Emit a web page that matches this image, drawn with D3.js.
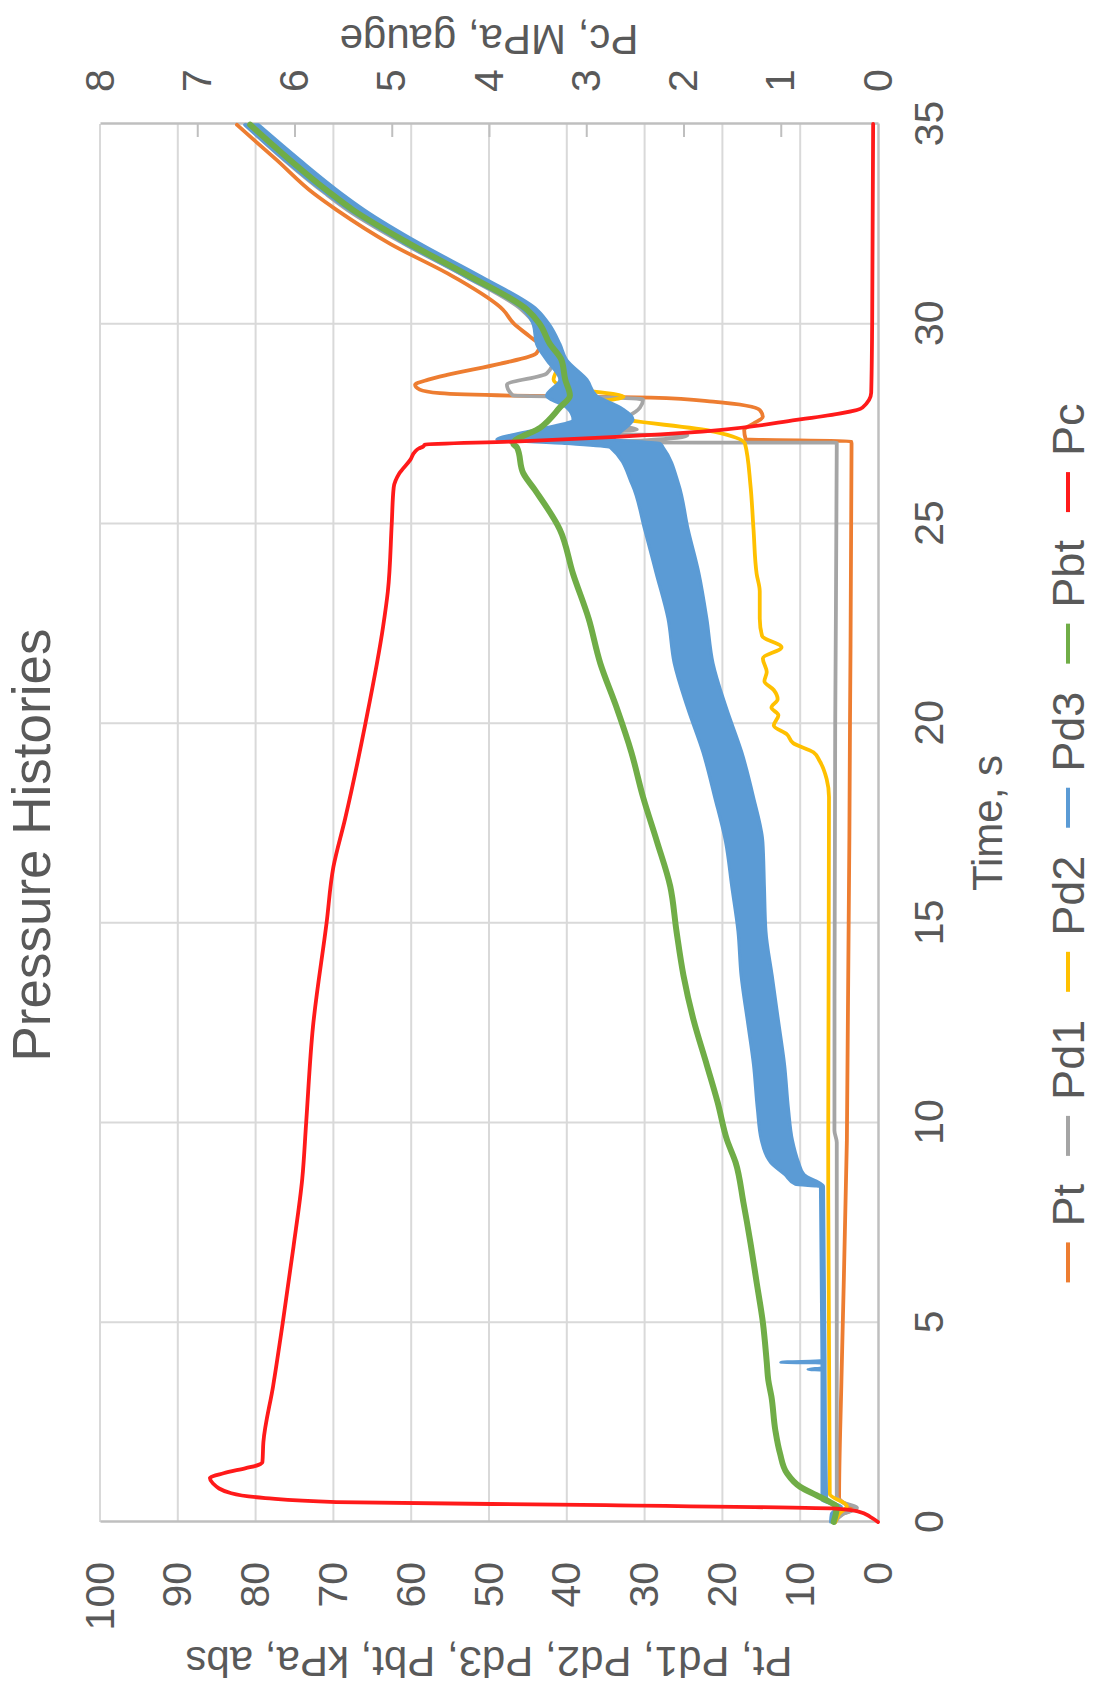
<!DOCTYPE html>
<html><head><meta charset="utf-8">
<script src="https://cdn.jsdelivr.net/npm/d3@7"></script>
<style>
body{margin:0;background:#fff}
svg{display:block}
text{font-family:"Liberation Sans",Arial,Helvetica,sans-serif;fill:#595959}
</style>
</head><body>
<svg id="c" width="1096" height="1690"></svg>
<script>
// ---------- data ----------
const timeTicks = [0,5,10,15,20,25,30,35];
const kpaTicks  = [0,10,20,30,40,50,60,70,80,90,100];
const mpaTicks  = [0,1,2,3,4,5,6,7,8];
const seriesNames  = ["Pt","Pd1","Pd2","Pd3","Pbt","Pc"];
const seriesColors = ["#ED7D31","#A5A5A5","#FFC000","#5B9BD5","#70AD47","#FF1A1A"];

// [time s, kPa]
const Pt = [[0,5.5],[0.2,4.6],[0.32,3.2],[0.45,4.2],[0.6,5.0],[3.55,4.7],[9.56,4.0],[20,3.6],[27.0,3.4],[27.06,3.5],[27.1,17.0],[27.34,17.2],[27.5,16.0],[27.67,14.8],[27.84,15.2],[28.05,21.2],[28.15,29.2],[28.2,47.3],[28.26,56.3],[28.35,58.9],[28.47,59.5],[28.6,57.8],[28.72,55.4],[29.0,48.5],[29.26,43.9],[29.46,43.5],[29.67,44.7],[30.0,46.8],[30.35,48.2],[31.18,54.6],[32.0,62.7],[32.85,69.6],[33.27,72.6],[34.1,77.3],[34.98,82.4]];
const Pd1 = [[0,5.5],[0.2,4.5],[0.35,2.7],[0.5,4.6],[0.65,5.3],[9.5,5.3],[9.8,5.6],[20,5.5],[27.0,5.3],[27.02,5.3],[27.03,40.0],[27.08,30.0],[27.2,24.5],[27.26,41.0],[27.35,31.0],[27.5,34.7],[27.7,32.0],[27.9,30.6],[28.1,30.2],[28.16,36.0],[28.2,46.9],[28.47,47.7],[28.75,42.6],[29.1,41.7],[29.6,43.7],[30.0,44.2],[30.35,45.8],[31.18,53.0],[32.0,60.9],[32.85,68.2],[33.27,71.1],[34.1,76.3],[34.98,81.3]];
const Pd2 = [[0,5.5],[0.2,5.0],[0.4,4.0],[0.7,6.2],[9.56,6.4],[18.15,6.3],[18.6,6.6],[19.05,7.5],[19.27,8.3],[19.5,10.9],[19.72,11.7],[19.94,13.4],[20.2,12.8],[20.39,13.7],[20.6,12.9],[20.83,13.4],[21.05,14.6],[21.28,14.3],[21.62,14.8],[21.9,12.4],[22.18,14.9],[22.62,15.2],[23.3,15.2],[23.74,15.6],[24.85,16.0],[25.97,16.4],[27.0,17.1],[27.3,21.1],[27.67,34.4],[28.0,37.0],[28.17,32.7],[28.4,40.0],[28.6,41.7],[29.0,41.0],[29.5,42.6],[30.0,43.6],[30.35,45.0],[31.18,52.2],[32.0,60.0],[32.85,67.2],[33.27,70.2],[34.1,75.5],[34.98,80.6]];
// [time s, low kPa, high kPa] – noisy band
const Pd3 = [[0,5.7,6.1],[0.2,5.6,6.0],[0.38,4.7,5.1],[0.55,6.6,7.2],[3.8,6.8,7.2],[3.82,6.8,9.0],[3.86,6.8,7.2],[3.98,6.8,7.2],[4.0,6.8,12.5],[4.04,6.8,7.2],[8.4,7.0,7.4],[8.45,7.2,10.6],[8.7,9.5,12.0],[9.0,10.2,13.8],[9.56,11.0,15.0],[10.33,11.5,15.5],[11.44,12.0,16.0],[12.56,12.8,16.8],[13.68,13.6,17.6],[14.79,14.4,18.0],[15.91,14.6,18.8],[17.03,14.8,19.6],[18.15,16.0,21.0],[19.27,17.5,22.5],[20.39,19.5,24.5],[21.5,21.2,26.2],[22.62,22.0,27.0],[23.74,23.0,28.5],[24.85,24.4,30.0],[25.97,25.6,31.6],[26.9,27.6,34.4],[27.0,28.0,40.0],[27.1,34.0,49.0],[27.3,33.0,45.0],[27.6,31.5,39.2],[27.9,33.1,40.0],[28.2,36.2,42.6],[28.6,37.4,40.9],[29.09,40.0,42.6],[29.5,40.9,43.9],[29.97,42.2,44.3],[30.35,43.8,45.6],[31.18,51.0,53.0],[32.0,58.8,60.8],[32.85,66.0,68.0],[33.27,69.0,71.0],[34.1,74.3,76.3],[34.98,79.6,81.4]];
const Pbt = [[0,5.7],[0.38,5.3],[0.5,6.2],[0.67,7.9],[0.88,10.0],[1.22,11.7],[1.72,12.6],[2.3,13.2],[3.14,13.7],[3.55,14.1],[4.0,14.3],[5,14.8],[6,15.6],[7,16.4],[8,17.3],[9,18.3],[9.56,19.4],[10.5,20.6],[11.44,22.0],[12.56,23.7],[13.68,25.0],[14.79,25.9],[15.91,26.7],[17.03,28.4],[18.15,30.2],[19.27,31.7],[20.39,33.6],[21.5,35.7],[22.62,37.2],[23.74,39.2],[24.85,40.9],[25.84,44.1],[26.26,45.6],[26.9,46.4],[27.0,46.9],[27.4,43.4],[27.9,40.9],[28.2,39.6],[28.6,40.2],[29.1,40.7],[29.5,42.2],[30.0,43.5],[30.35,45.1],[31.18,52.4],[32.0,60.2],[32.85,67.5],[33.27,70.4],[34.1,75.6],[34.98,80.7]];
// [time s, MPa gauge]
const Pc = [[0,0],[0.13,0.08],[0.26,0.2],[0.33,0.4],[0.42,2.8],[0.5,5.57],[0.6,6.3],[0.72,6.65],[0.97,6.84],[1.1,6.87],[1.22,6.73],[1.35,6.5],[1.43,6.37],[1.5,6.33],[2.0,6.32],[3.4,6.22],[5.0,6.12],[6.9,6.01],[8.6,5.92],[10.0,5.88],[12.4,5.81],[15.0,5.67],[16.4,5.6],[17.6,5.48],[20.0,5.27],[22.4,5.09],[23.3,5.04],[25.0,5.0],[25.9,4.98],[26.26,4.92],[26.59,4.81],[26.8,4.76],[26.88,4.72],[26.92,4.68],[26.97,4.66],[27.05,3.75],[27.26,2.04],[27.59,0.84],[27.9,0.16],[28.27,0.07],[30,0.06],[35,0.05]];

// ---------- chart (drawn landscape, rotated -90°) ----------
const W = 1690, H = 1096;
const svg = d3.select("#c");
const g = svg.append("g").attr("transform", `translate(0,${W}) rotate(-90)`);

const x  = d3.scaleLinear().domain([0,35]).range([168,1566]);
const yL = d3.scaleLinear().domain([0,100]).range([878,100]);
const yR = d3.scaleLinear().domain([0,8]).range([878,100]);

const gridC = "#d9d9d9", axisC = "#bfbfbf";

// gridlines
g.append("g").selectAll("line").data(timeTicks.filter(t=>t>0&&t<35)).join("line")
  .attr("x1",d=>x(d)).attr("x2",d=>x(d)).attr("y1",yL(0)).attr("y2",yL(100))
  .attr("stroke",gridC).attr("stroke-width",2);
g.append("g").selectAll("line").data(kpaTicks.filter(v=>v>0)).join("line")
  .attr("x1",x(0)).attr("x2",x(35)).attr("y1",d=>yL(d)).attr("y2",d=>yL(d))
  .attr("stroke",gridC).attr("stroke-width",2);

function styleAxis(sel){
  sel.select(".domain").attr("stroke",axisC).attr("stroke-width",2.5);
  sel.selectAll(".tick line").attr("stroke",axisC).attr("stroke-width",2);
  sel.selectAll(".tick text").attr("fill","#595959").style("font-size","41px")
     .style("font-family",'"Liberation Sans",Arial,sans-serif');
}

const axB = g.append("g").attr("transform",`translate(0,${yL(0)})`)
  .call(d3.axisBottom(x).tickValues(timeTicks).tickSize(0).tickPadding(36).tickFormat(d3.format("d")));
styleAxis(axB);
const axL = g.append("g").attr("transform",`translate(${x(0)},0)`)
  .call(d3.axisLeft(yL).tickValues(kpaTicks).tickSize(0).tickPadding(40).tickFormat(d3.format("d")));
styleAxis(axL);
const axR = g.append("g").attr("transform",`translate(${x(35)},0)`)
  .call(d3.axisRight(yR).tickValues(mpaTicks).tickSizeInner(-13).tickSizeOuter(0).tickPadding(32).tickFormat(d3.format("d")));
styleAxis(axR);
axR.selectAll(".tick line").filter(d=>d===0||d===8).remove();

// series
const curve = d3.curveMonotoneX;
const lineL = d3.line().curve(curve).x(d=>x(d[0])).y(d=>yL(d[1]));
const lineR = d3.line().curve(curve).x(d=>x(d[0])).y(d=>yR(d[1]));
const bandL = d3.area().curve(curve).x(d=>x(d[0])).y0(d=>yL(d[1])).y1(d=>yL(d[2]));

const plot = g.append("g").attr("fill","none").attr("stroke-linejoin","round").attr("stroke-linecap","round");
plot.append("path").attr("d",lineL(Pt)).attr("stroke",seriesColors[0]).attr("stroke-width",3.8);
plot.append("path").attr("d",lineL(Pd1)).attr("stroke",seriesColors[1]).attr("stroke-width",3.8);
plot.append("path").attr("d",lineL(Pd2)).attr("stroke",seriesColors[2]).attr("stroke-width",3.8);
plot.append("path").attr("d",bandL(Pd3)).attr("fill",seriesColors[3]).attr("stroke",seriesColors[3]).attr("stroke-width",3);
plot.append("path").attr("d",lineL(Pbt)).attr("stroke",seriesColors[4]).attr("stroke-width",6);
plot.append("path").attr("d",lineR(Pc)).attr("stroke",seriesColors[5]).attr("stroke-width",3.8);

// titles
g.append("text").attr("x",845).attr("y",50).attr("text-anchor","middle")
  .style("font-size","53px").text("Pressure Histories");
g.append("text").attr("x",(x(0)+x(35))/2).attr("y",1002).attr("text-anchor","middle")
  .style("font-size","42px").text("Time, s");
g.append("text").attr("transform",`translate(43,${(yL(0)+yL(100))/2}) rotate(-90)`)
  .attr("text-anchor","middle").style("font-size","42px").text("Pt, Pd1, Pd2, Pd3, Pbt, kPa, abs");
g.append("text").attr("transform",`translate(1665,${(yR(0)+yR(8))/2}) rotate(-90)`)
  .attr("text-anchor","middle").style("font-size","42px").text("Pc, MPa, gauge");

// legend
const leg = g.append("g");
const dashL = 40, gapT = 16, sep = 28, legY = 1068;
const items = seriesNames.map((n,i)=>{
  const it = leg.append("g");
  it.append("line").attr("x1",0).attr("x2",dashL).attr("y1",legY).attr("y2",legY)
    .attr("stroke",seriesColors[i]).attr("stroke-width",4);
  const t = it.append("text").attr("x",dashL+gapT).attr("y",legY+16).style("font-size","45px").text(n);
  return {it, w: dashL+gapT+t.node().getComputedTextLength()};
});
const total = d3.sum(items,d=>d.w) + sep*(items.length-1);
let cx = 847 - total/2;
items.forEach(d=>{ d.it.attr("transform",`translate(${cx},0)`); cx += d.w + sep; });
</script>
</body></html>
